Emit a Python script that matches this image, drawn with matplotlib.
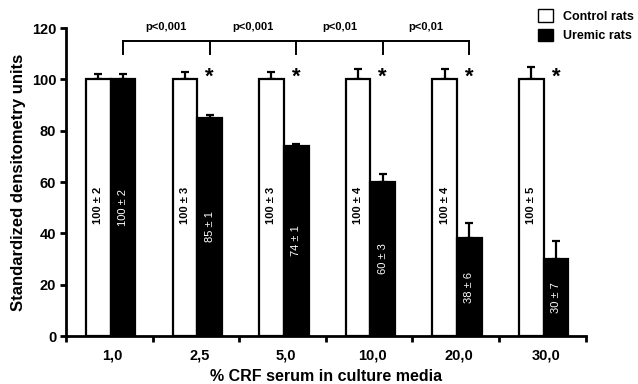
import numpy as np
import matplotlib.pyplot as plt
from matplotlib.patches import Patch

plt.rcParams['font.family'] = ['Liberation Sans', 'DejaVu Sans']

grupos = ["1,0", "2,5", "5,0", "10,0", "20,0", "30,0"]
control = [100, 100, 100, 100, 100, 100]
control_err = [2, 3, 3, 4, 4, 5]
uremic = [100, 85, 74, 60, 38, 30]
uremic_err = [2, 1, 1, 3, 6, 7]
control_txt = ["100 ± 2", "100 ± 3", "100 ± 3", "100 ± 4", "100 ± 4", "100 ± 5"]
uremic_txt = ["100 ± 2", "85 ± 1", "74 ± 1", "60 ± 3", "38 ± 6", "30 ± 7"]
p_txt = ["p<0,001", "p<0,001", "p<0,01", "p<0,01"]

fig = plt.figure(figsize=(6.38, 3.84), dpi=100)
ax = fig.add_axes([0.1034, 0.125, 0.8146, 0.802])

x = np.arange(len(grupos))
w = 0.285
xc = x + 0.23 + w / 2
xu = x + 0.23 + w + w / 2

ax.bar(xc, control, w, color="white", edgecolor="black", linewidth=1.6, zorder=2)
ax.bar(xu, uremic, w, color="black", edgecolor="black", linewidth=1.6, zorder=2)
ax.errorbar(xc, control, yerr=[np.zeros(6), control_err], fmt="none", ecolor="black",
            elinewidth=1.6, capsize=3, capthick=1.6, zorder=1)
ax.errorbar(xu, uremic, yerr=[np.zeros(6), uremic_err], fmt="none", ecolor="black",
            elinewidth=1.6, capsize=3, capthick=1.6, zorder=1)

# textos dentro de las barras
for i in range(len(grupos)):
    ax.text(xc[i], 51, control_txt[i], rotation=90, ha="center", va="center",
            fontsize=8, fontweight="bold", color="black", zorder=3)
    ax.text(xu[i], uremic[i] / 2, uremic_txt[i], rotation=90, ha="center", va="center",
            fontsize=8, color="white", zorder=3)

# asteriscos
for i in range(1, len(grupos)):
    ax.text(xu[i], 101, "*", ha="center", va="center", fontsize=16, fontweight="bold")

# corchetes de significancia
y_top = 115
y_bot = 110
ax.plot([xu[0], xu[4]], [y_top, y_top], color="black", lw=1.4, clip_on=False)
for i in range(5):
    ax.plot([xu[i], xu[i]], [y_bot, y_top], color="black", lw=1.4, clip_on=False)
for i in range(4):
    ax.text((xu[i] + xu[i + 1]) / 2, 120.5, p_txt[i], ha="center", va="center",
            fontsize=8, fontweight="bold", clip_on=False)

ax.set_xlim(0, 6)
ax.set_ylim(0, 120)
ax.set_yticks(np.arange(0, 121, 20))
ax.set_xticks(np.arange(0, 7))
ax.set_xticklabels([])
ax.set_xticks(x + 0.54, minor=True)
ax.set_xticklabels(grupos, minor=True, fontsize=10.5, fontweight="bold")
ax.tick_params(axis="x", which="minor", length=0, pad=9)
ax.tick_params(axis="x", which="major", length=4, width=2, direction="out")
ax.tick_params(axis="y", length=4, width=2, labelsize=10.5, pad=3)
for lbl in ax.get_yticklabels():
    lbl.set_fontweight("bold")

for s in ["top", "right"]:
    ax.spines[s].set_visible(False)
for s in ["left", "bottom"]:
    ax.spines[s].set_linewidth(2)

ax.set_ylabel("Standardized densitometry units", fontsize=12, fontweight="bold", labelpad=4)
ax.set_xlabel("% CRF serum in culture media", fontsize=11.5, fontweight="bold", labelpad=5)

handles = [Patch(facecolor="white", edgecolor="black", label="Control rats"),
           Patch(facecolor="black", edgecolor="black", label="Uremic rats")]
leg = fig.legend(handles=handles, loc="upper left", bbox_to_anchor=(0.825, 1.005),
                 frameon=False, handlelength=1.2, handleheight=1.2, handletextpad=0.8,
                 labelspacing=0.45, prop={"weight": "bold", "size": 9})

plt.savefig("out.png", dpi=100)
